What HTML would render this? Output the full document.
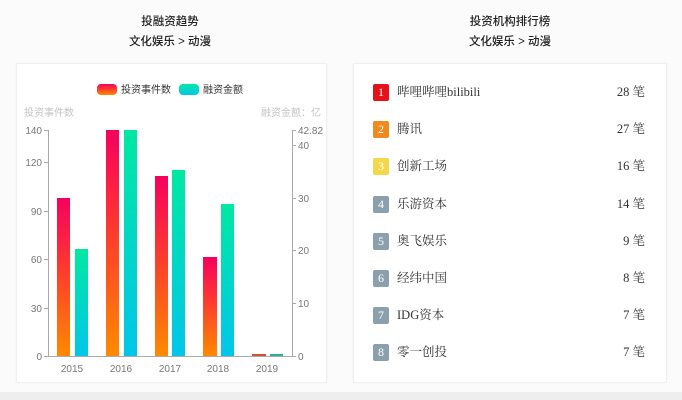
<!DOCTYPE html>
<html><head><meta charset="utf-8">
<style>
html,body{margin:0;padding:0;}
body{width:682px;height:400px;background:#fbfbfb;position:relative;overflow:hidden;font-family:"Liberation Sans","Noto Sans CJK SC",sans-serif;}
.title{position:absolute;text-align:center;font-size:11.5px;color:#222;line-height:20px;font-weight:500;}
.card{position:absolute;background:#fff;border:1px solid #f0f0f0;box-shadow:0 0 3px rgba(0,0,0,0.04);}
.strip{position:absolute;left:0;top:392px;width:682px;height:8px;background:#eeeeee;}
.row{position:absolute;left:373px;width:272px;height:18px;font-family:"Liberation Serif","Noto Serif CJK SC",serif;font-size:12.5px;color:#333;}
.badge{position:absolute;left:0;top:0;width:16px;height:17px;border-radius:2px;color:#fff;text-align:center;line-height:17px;font-size:12px;}
.name{position:absolute;left:24px;top:0;line-height:17px;}
.cnt{position:absolute;right:0;top:0;line-height:17px;}
</style></head><body>
<div class="title" style="left:70px;top:12px;width:200px;">投融资趋势<br>文化娱乐 &gt; 动漫</div>
<div class="title" style="left:410px;top:12px;width:200px;">投资机构排行榜<br>文化娱乐 &gt; 动漫</div>
<div class="card" style="left:16px;top:63px;width:309px;height:318px;"></div>
<div class="card" style="left:353px;top:63px;width:312px;height:318px;"></div>
<div class="strip"></div>
<svg width="682" height="400" style="position:absolute;left:0;top:0;" xmlns="http://www.w3.org/2000/svg">
<defs>
<linearGradient id="gr" x1="0" y1="0" x2="0" y2="1"><stop offset="0" stop-color="#f5005e"/><stop offset="0.45" stop-color="#ff3a2e"/><stop offset="1" stop-color="#ff8a00"/></linearGradient>
<linearGradient id="gc" x1="0" y1="0" x2="0" y2="1"><stop offset="0" stop-color="#00e8a2"/><stop offset="1" stop-color="#00c6ea"/></linearGradient>
</defs>
<!-- legend -->
<rect x="97" y="84" width="20" height="11" rx="4" fill="url(#gr)"/>
<text x="121" y="93" font-size="10" fill="#333" font-family="Liberation Sans, Noto Sans CJK SC, sans-serif">投资事件数</text>
<rect x="179" y="84" width="20" height="11" rx="4" fill="url(#gc)"/>
<text x="203" y="93" font-size="10" fill="#333" font-family="Liberation Sans, Noto Sans CJK SC, sans-serif">融资金额</text>
<text x="24" y="116" font-size="10" fill="#c4c4c4" font-family="Liberation Sans, Noto Sans CJK SC, sans-serif">投资事件数</text>
<text x="321" y="116" font-size="10" fill="#c4c4c4" text-anchor="end" font-family="Liberation Sans, Noto Sans CJK SC, sans-serif">融资金额：亿</text>
<!-- axes -->
<g stroke="#aaa" stroke-width="1" fill="none">
<line x1="48.5" y1="130" x2="48.5" y2="356"/>
<line x1="292.5" y1="130" x2="292.5" y2="356"/>
<line x1="48" y1="356.5" x2="293" y2="356.5"/>
<line x1="44" y1="130.5" x2="48" y2="130.5"/>
<line x1="44" y1="162.5" x2="48" y2="162.5"/>
<line x1="44" y1="211.5" x2="48" y2="211.5"/>
<line x1="44" y1="259.5" x2="48" y2="259.5"/>
<line x1="44" y1="308.5" x2="48" y2="308.5"/>
<line x1="44" y1="356.5" x2="48" y2="356.5"/>
<line x1="292" y1="130.5" x2="296" y2="130.5"/>
<line x1="292" y1="145.5" x2="296" y2="145.5"/>
<line x1="292" y1="198.5" x2="296" y2="198.5"/>
<line x1="292" y1="250.5" x2="296" y2="250.5"/>
<line x1="292" y1="303.5" x2="296" y2="303.5"/>
<line x1="292" y1="356.5" x2="296" y2="356.5"/>
</g>
<g font-size="10" fill="#777" font-family="Liberation Sans, sans-serif" text-anchor="end">
<text x="42" y="134">140</text>
<text x="42" y="166">120</text>
<text x="42" y="215">90</text>
<text x="42" y="263">60</text>
<text x="42" y="312">30</text>
<text x="42" y="360">0</text>
</g>
<g font-size="10" fill="#777" font-family="Liberation Sans, sans-serif">
<text x="298" y="134">42.82</text>
<text x="298" y="149">40</text>
<text x="298" y="202">30</text>
<text x="298" y="254">20</text>
<text x="298" y="307">10</text>
<text x="298" y="360">0</text>
</g>
<g font-size="10" fill="#777" font-family="Liberation Sans, sans-serif" text-anchor="middle">
<text x="72" y="372">2015</text>
<text x="121" y="372">2016</text>
<text x="170" y="372">2017</text>
<text x="218" y="372">2018</text>
<text x="267" y="372">2019</text>
</g>
<!-- bars -->
<rect x="57" y="198" width="13" height="158" fill="url(#gr)"/>
<rect x="75" y="249" width="13" height="107" fill="url(#gc)"/>
<rect x="106" y="130" width="13" height="226" fill="url(#gr)"/>
<rect x="124" y="130" width="13" height="226" fill="url(#gc)"/>
<rect x="155" y="176" width="13" height="180" fill="url(#gr)"/>
<rect x="172" y="170" width="13" height="186" fill="url(#gc)"/>
<rect x="203" y="257" width="14" height="99" fill="url(#gr)"/>
<rect x="221" y="204" width="13" height="152" fill="url(#gc)"/>
<rect x="252" y="354" width="14" height="2" fill="#d0503a"/>
<rect x="270" y="354" width="13" height="2" fill="#2ab0a0"/>
</svg>
<div class="row" style="top:84px;"><div class="badge" style="background:#e5121b;">1</div><div class="name">哔哩哔哩bilibili</div><div class="cnt">28 笔</div></div>
<div class="row" style="top:121px;"><div class="badge" style="background:#ef8a1f;">2</div><div class="name">腾讯</div><div class="cnt">27 笔</div></div>
<div class="row" style="top:158px;"><div class="badge" style="background:#f4d84a;">3</div><div class="name">创新工场</div><div class="cnt">16 笔</div></div>
<div class="row" style="top:196px;"><div class="badge" style="background:#8c9fac;">4</div><div class="name">乐游资本</div><div class="cnt">14 笔</div></div>
<div class="row" style="top:233px;"><div class="badge" style="background:#8c9fac;">5</div><div class="name">奥飞娱乐</div><div class="cnt">9 笔</div></div>
<div class="row" style="top:270px;"><div class="badge" style="background:#8c9fac;">6</div><div class="name">经纬中国</div><div class="cnt">8 笔</div></div>
<div class="row" style="top:307px;"><div class="badge" style="background:#8c9fac;">7</div><div class="name">IDG资本</div><div class="cnt">7 笔</div></div>
<div class="row" style="top:344px;"><div class="badge" style="background:#8c9fac;">8</div><div class="name">零一创投</div><div class="cnt">7 笔</div></div>
</body></html>
